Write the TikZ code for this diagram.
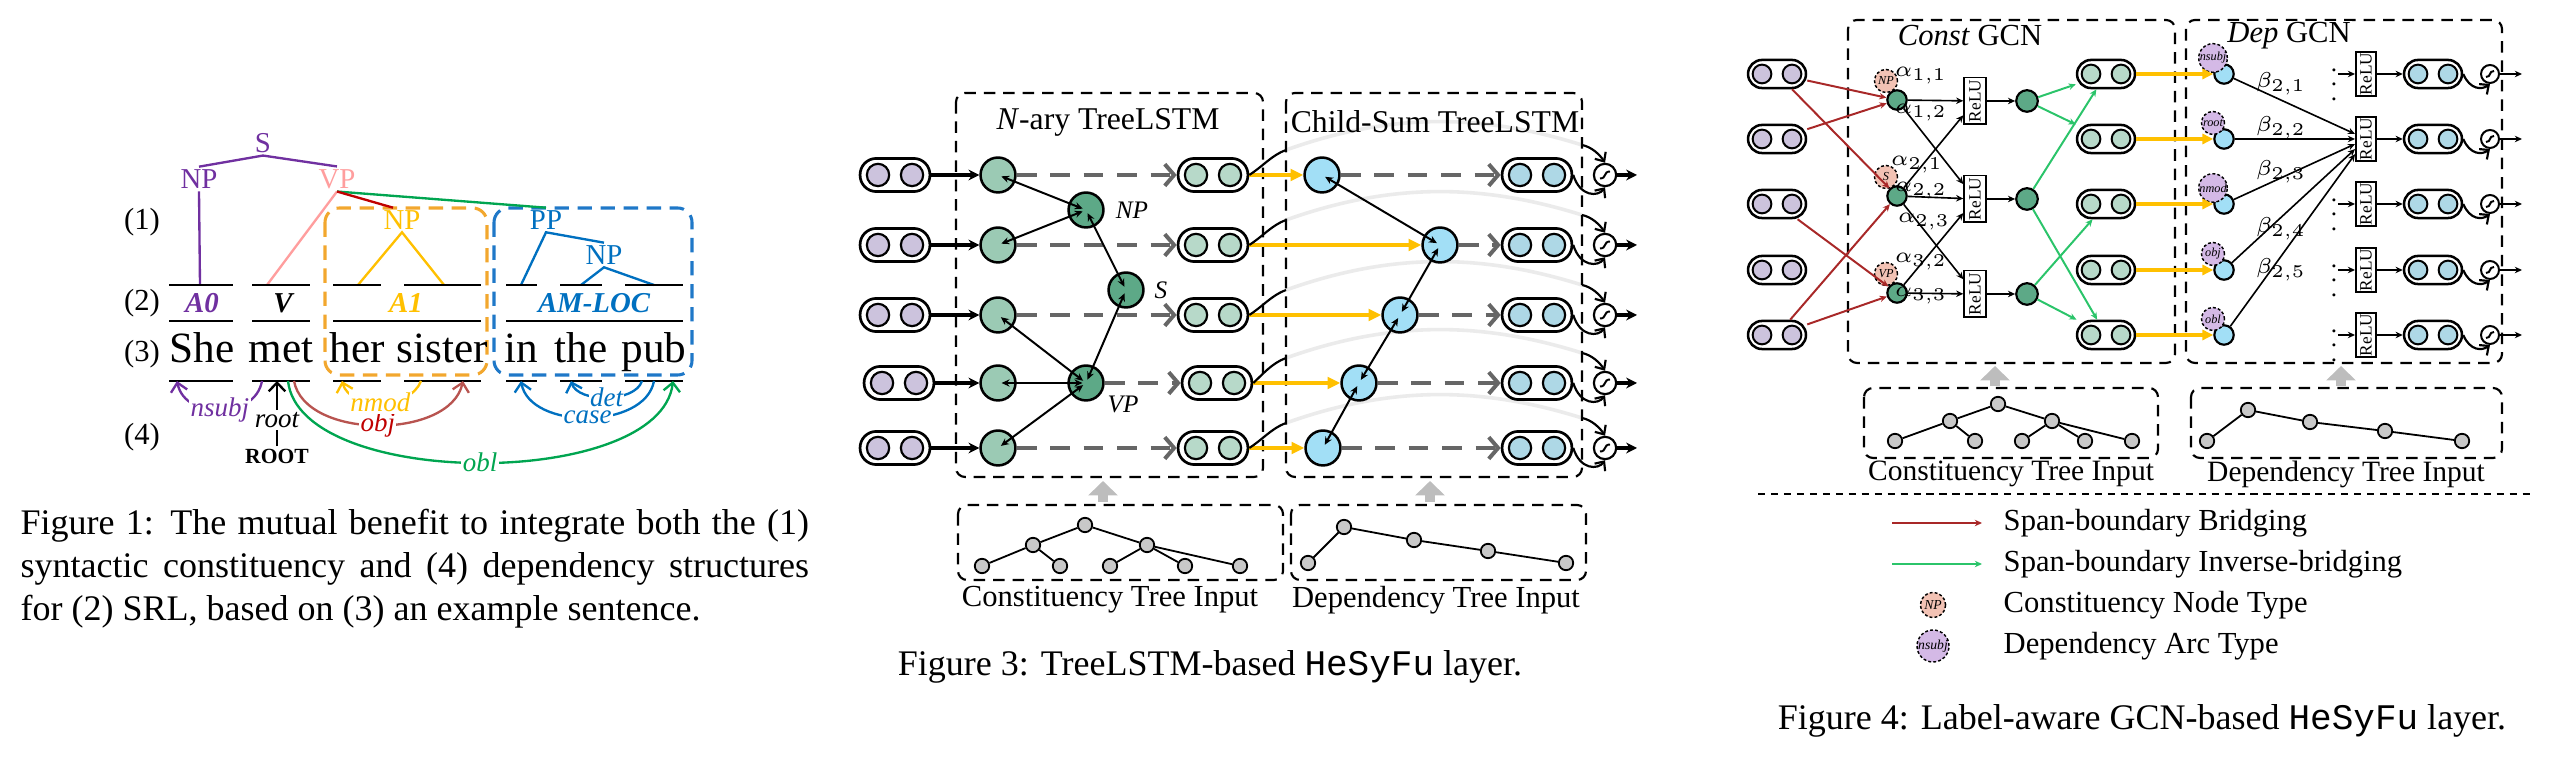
\documentclass[tikz,border=0pt]{standalone}
\usepackage{fontspec}
\setmainfont{Liberation Serif}
\setmonofont{Liberation Mono}
\usetikzlibrary{arrows.meta,calc}
\definecolor{cpurple}{HTML}{7030A0}
\definecolor{cpink}{HTML}{FF9E9E}
\definecolor{cdred}{HTML}{C00000}
\definecolor{cgreen}{HTML}{00A550}
\definecolor{cyellow}{HTML}{FFC000}
\definecolor{corange}{HTML}{F2A72E}
\definecolor{cblue}{HTML}{0070C0}
\definecolor{cbluebox}{HTML}{1F78C8}
\definecolor{cobj}{HTML}{B85450}
\definecolor{leafg}{HTML}{9BCAB4}
\definecolor{darkg}{HTML}{5DA987}
\definecolor{pillg}{HTML}{B7D9C9}
\definecolor{lav}{HTML}{CCC3DD}
\definecolor{skyb}{HTML}{A2DFF6}
\definecolor{pillb}{HTML}{AED8E6}
\definecolor{dgray}{HTML}{666666}
\definecolor{lgray}{HTML}{EBEBEB}
\definecolor{upgray}{HTML}{BDBDBD}
\definecolor{tgray}{HTML}{C8C8C8}
\definecolor{pinkl}{HTML}{F2C2B4}
\definecolor{purl}{HTML}{D4B9E6}
\definecolor{brred}{HTML}{A82828}
\definecolor{lgreen}{HTML}{2BC46A}
\begin{document}
\begin{tikzpicture}[x=0.27778pt,y=-0.27778pt]
\useasboundingbox (0,0) rectangle (2550,768);
\tikzset{
 trl/.style={line width=0.65pt},
 barl/.style={line width=0.65pt,black},
 tlab/.style={font=\fontsize{8}{9}\selectfont,inner sep=0.6pt},
 srl/.style={font=\fontsize{8}{9}\selectfont\bfseries\itshape,inner sep=0.5pt},
 wordt/.style={font=\fontsize{12}{13}\selectfont,anchor=base,inner sep=0pt},
 rowl/.style={font=\fontsize{8.5}{9}\selectfont,inner sep=0.5pt},
 deplab/.style={font=\fontsize{7.5}{8}\selectfont\itshape,fill=white,inner sep=0.4pt},
 arcs/.style={line width=0.65pt,-{Straight Barb[length=2.4pt,width=4.6pt]}},
 dbox/.style={dash pattern=on 4pt off 2.4pt,line width=0.85pt,rounded corners=4pt},
 capt/.style={font=\fontsize{10}{12}\selectfont,inner sep=0pt},
 gbox/.style={draw,dash pattern=on 3.2pt off 2.2pt,line width=0.6pt,rounded corners=2.5pt},
 ttl/.style={font=\fontsize{8.8}{10}\selectfont,inner sep=0.5pt},
 pillbox/.style={draw,line width=0.75pt,rectangle,rounded corners=4.5pt,minimum width=19.4pt,minimum height=9.2pt,inner sep=0pt},
 pdot/.style={draw,circle,line width=0.6pt,minimum size=6.2pt,inner sep=0pt},
 leafc/.style={draw,circle,line width=0.7pt,minimum size=9.7pt,inner sep=0pt,fill=leafg},
 inarr/.style={line width=0.9pt,-{Stealth[length=3pt,width=3pt]}},
 tarr/.style={line width=0.55pt,{Stealth[length=2.2pt,width=2pt]}-{Stealth[length=2.2pt,width=2pt]},shorten <=1pt,shorten >=1pt},
 garr/.style={dgray,line width=1.1pt,dash pattern=on 5.5pt off 3.8pt,-{Straight Barb[length=2.6pt,width=6pt]}},
 yarr/.style={cyellow,line width=1.2pt,-{Triangle[length=3.5pt,width=3.2pt]}},
 sigc/.style={draw,circle,line width=0.6pt,minimum size=6.2pt,inner sep=0pt,fill=white},
 thinl/.style={line width=0.6pt},
 barb/.style={-{Straight Barb[length=2pt,width=3.6pt]}},
 sigl/.style={line width=0.55pt},
 nlab/.style={font=\fontsize{7}{8}\selectfont\itshape,inner sep=0.5pt},
 tnode/.style={draw,circle,fill=tgray,line width=0.5pt,minimum size=4pt,inner sep=0pt},
 tedge/.style={line width=0.5pt},
 uparr/.style={upgray,line width=3pt,-{Triangle[length=4pt,width=8pt]}},
 tinl/.style={font=\fontsize{8.5}{10}\selectfont,inner sep=0.5pt},
 ttl4/.style={font=\fontsize{8.5}{10}\selectfont,inner sep=0.5pt,fill=white},
 pillf/.style={draw,line width=0.7pt,rectangle,rounded corners=3.9pt,minimum width=16.1pt,minimum height=7.8pt,inner sep=0pt},
 pdotf/.style={draw,circle,line width=0.55pt,minimum size=5.2pt,inner sep=0pt},
 fnode/.style={draw,circle,line width=0.6pt,minimum size=5.4pt,inner sep=0pt},
 flab/.style={draw,circle,dashed,dash pattern=on 0.8pt off 0.6pt,line width=0.4pt,minimum size=6.4pt,inner sep=0pt,font=\fontsize{3.4}{4}\selectfont\itshape},
 reluC/.style={draw,line width=0.5pt,rotate=90,minimum width=13pt,minimum height=6pt,inner sep=0.3pt,font=\fontsize{4.8}{5}\selectfont},
 reluD/.style={draw,line width=0.5pt,rotate=90,minimum width=11pt,minimum height=5.6pt,inner sep=0.3pt,font=\fontsize{4.8}{5}\selectfont},
 arr4/.style={line width=0.45pt,-{Stealth[length=2pt,width=1.8pt]}},
 rarr/.style={brred,line width=0.55pt,-{Stealth[length=2pt,width=1.8pt]}},
 grarr/.style={lgreen,line width=0.55pt,-{Stealth[length=2pt,width=1.8pt]}},
 yarr4/.style={cyellow,line width=1pt,-{Triangle[length=3pt,width=2.8pt]}},
 sigf/.style={draw,circle,line width=0.55pt,minimum size=5pt,inner sep=0pt,fill=white},
 alab/.style={font=\fontsize{6}{7}\selectfont,inner sep=0.3pt},
 legt/.style={font=\fontsize{8.5}{10}\selectfont,anchor=west,inner sep=0pt},
}
%%%%%%%%%%%%%%%%%%%%%%%% FIGURE 1
\draw[dbox,corange] (325,208) rectangle (487,375);
\draw[dbox,cbluebox] (494,208) rectangle (692,375);
\node[tlab,text=cpurple] (S1) at (263,143) {S};
\node[tlab,text=cpurple] (NPa) at (199,179) {NP};
\node[tlab,text=cpink] (VPa) at (337,179) {VP};
\node[tlab,text=cyellow] (NPb) at (402,220) {NP};
\node[tlab,text=cblue] (PPc) at (546,220) {PP};
\node[tlab,text=cblue] (NPc) at (604,255) {NP};
\coordinate (a0t) at (200,285);
\coordinate (vt) at (267,285);
\coordinate (b1) at (358,285);
\coordinate (b2) at (444,285);
\coordinate (c1) at (521,285);
\coordinate (c2) at (581,285);
\coordinate (c3) at (654,285);
\draw[trl,cpurple] (NPa.north) -- (S1.south) -- (VPa.north);
\draw[trl,cpurple] (NPa.south) -- (a0t);
\draw[trl,cpink] (VPa.south) -- (vt);
\draw[trl,cgreen] (VPa.south) -- (PPc.north);
\draw[trl,cdred] (VPa.south) -- ($(NPb.north)+(-9,0)$);
\draw[trl,cyellow] (b1) -- (NPb.south) -- (b2);
\draw[trl,cblue] (c1) -- (PPc.south) -- (NPc.north);
\draw[trl,cblue] (c2) -- (NPc.south) -- (c3);
\foreach \a/\b in {169/233,252/310,333/381,404/481,506/537,560/602,625/683}{
  \draw[barl] (\a,285) -- (\b,285);
  \draw[barl] (\a,381) -- (\b,381);
}
\foreach \a/\b in {169/233,252/310,333/481,506/683}
  \draw[barl] (\a,321) -- (\b,321);
\node[srl,text=cpurple] (lA0) at (202,303) {A0};
\node[srl] (lV) at (283,303) {V};
\node[srl,text=cyellow] (lA1) at (406,303) {A1};
\node[srl,text=cblue] (lAM) at (594,303) {AM-LOC};
\node[wordt] (wShe) at (202,363) {She};
\node[wordt] (wmet) at (281,363) {met};
\node[wordt] (wher) at (357,363) {her};
\node[wordt] (wsis) at (442,363) {sister};
\node[wordt] (win) at (521,363) {in};
\node[wordt] (wthe) at (581,363) {the};
\node[wordt] (wpub) at (654,363) {pub};
\node[rowl] (r1) at (142,222) {(1)};
\node[rowl] (r2) at (142,303) {(2)};
\node[rowl,anchor=base] (r3) at (142,362) {(3)};
\node[rowl] (r4) at (142,437) {(4)};
\coordinate (dShe) at (177,381);
\coordinate (dmetA) at (262,381);
\coordinate (dmetR) at (277,381);
\coordinate (dmetB) at (288,381);
\coordinate (dmetC) at (294,381);
\coordinate (dher) at (342,381);
\coordinate (dsisA) at (421,381);
\coordinate (dsisB) at (463,381);
\coordinate (din) at (521,381);
\coordinate (dthe) at (571,381);
\coordinate (dpubA) at (642,381);
\coordinate (dpubB) at (654,381);
\coordinate (dpubC) at (673,381);
\draw[arcs,cgreen] (dmetB) .. controls (300,490) and (660,490) .. (dpubC) node[deplab,text=cgreen,pos=0.5] {obl};
\draw[arcs,cobj] (dmetC) .. controls (305,440) and (450,440) .. (dsisB) node[deplab,text=cdred,pos=0.5] {obj};
\draw[arcs,cyellow] (dsisA) .. controls (410,410) and (350,410) .. (dher) node[deplab,text=cyellow,pos=0.5] {nmod};
\draw[arcs,cpurple] (dmetA) .. controls (255,420) and (185,420) .. (dShe) node[deplab,text=cpurple,pos=0.5] {nsubj};
\draw[arcs,cblue] (dpubB) .. controls (645,430) and (530,430) .. (din) node[deplab,text=cblue,pos=0.5] {case};
\draw[arcs,cblue] (dpubA) .. controls (635,403) and (578,403) .. (dthe) node[deplab,text=cblue,pos=0.5] {det};
\node[deplab] (rootl) at (277,420) {root};
\node[font=\fontsize{6}{7}\selectfont\bfseries,inner sep=0.5pt] (ROOT) at (277,456) {ROOT};
\draw[arcs] (rootl) -- (dmetR);
\draw[line width=0.6pt] (ROOT) -- (rootl);
\node[capt,anchor=north west,text width=219pt,align=justify] (cap1) at (20,508)
 {Figure 1: The mutual benefit to integrate both the (1) syntactic constituency and (4) dependency structures for (2) SRL, based on (3) an example sentence.};
%%%%%%%%%%%%%%%%%%%%%%%% FIGURE 3
\foreach \i/\y in {1/175,2/245,3/315,4/383,5/448}{
  \coordinate (K\i) at (1286,\y-25);
  \coordinate (M\i) at (1582,\y-30);
  \draw[lgray,line width=1pt] (K\i) .. controls (1390,\y-62) and (1480,\y-62) .. (M\i);
}
\draw[gbox] (956,93) rectangle (1263,477);
\draw[gbox] (1286,93) rectangle (1582,477);
\node[ttl] (T1) at (1108,122) {\textit{N}-ary TreeLSTM};
\node[ttl] (T2) at (1435,122) {Child-Sum TreeLSTM};
\foreach \i/\y/\bx/\sh in {1/175/1322/0,2/245/1440/0,3/315/1400/0,4/383/1359/4,5/448/1323/0}{
  \node[pillbox] (IP\i) at (895+\sh,\y) {};
  \node[pdot,fill=lav] at (878+\sh,\y) {};
  \node[pdot,fill=lav] at (912+\sh,\y) {};
  \node[leafc] (L\i) at (998,\y) {};
  \node[pillbox] (OP\i) at (1213+\sh,\y) {};
  \node[pdot,fill=pillg] at (1196+\sh,\y) {};
  \node[pdot,fill=pillg] at (1230+\sh,\y) {};
  \node[leafc,fill=skyb] (B\i) at (\bx,\y) {};
  \node[pillbox] (OQ\i) at (1537,\y) {};
  \node[pdot,fill=pillb] at (1520,\y) {};
  \node[pdot,fill=pillb] at (1554,\y) {};
  \node[sigc] (G\i) at (1605,\y) {};
  \coordinate (E\i) at (1637,\y);
  \draw[inarr] (IP\i) -- (L\i);
  \draw[yarr] (OP\i) -- (B\i);
  \draw[garr] (B\i) -- (OQ\i);
  \draw[thinl] (OP\i.east) .. controls (1262,\y-8) and (1272,\y-20) .. (K\i);
  \draw[thinl,barb] (M\i) .. controls (1592,\y-28) and (1600,\y-20) .. (G\i.north);
  \draw[thinl,barb] (OQ\i.east) .. controls (1580,\y+22) and (1598,\y+22) .. (G\i.south);
  \draw[sigl] ($(G\i)+(-5,3.5)$) .. controls ($(G\i)+(2,3.5)$) and ($(G\i)+(-2,-3.5)$) .. ($(G\i)+(5,-3.5)$);
  \draw[inarr] (G\i) -- (E\i);
}
\node[leafc,fill=darkg] (NPn) at (1086,210) {};
\node[leafc,fill=darkg] (Sn) at (1126,290) {};
\node[leafc,fill=darkg] (VPn) at (1086,383) {};
\node[nlab] (NPt) at (1132,210) {NP};
\node[nlab] (St) at (1161,290) {S};
\node[nlab] (VPt) at (1123,404) {VP};
\draw[garr] (L1) -- (OP1);
\draw[garr] (L2) -- (OP2);
\draw[garr] (L3) -- (OP3);
\draw[garr] (VPn) -- (OP4);
\draw[garr] (L5) -- (OP5);
\draw[tarr] (L1.center) -- (NPn.center);
\draw[tarr] (L2.center) -- (NPn.center);
\draw[tarr] (NPn.center) -- (Sn.center);
\draw[tarr] (Sn.center) -- (VPn.center);
\draw[tarr] (L3.center) -- (VPn.center);
\draw[tarr] (L4.center) -- (VPn.center);
\draw[tarr] (L5.center) -- (VPn.center);
\draw[tarr] (B1.center) -- (B2.center);
\draw[tarr] (B2.center) -- (B3.center);
\draw[tarr] (B3.center) -- (B4.center);
\draw[tarr] (B4.center) -- (B5.center);
% bottom trees
\coordinate (ua1) at (1103,502);
\coordinate (ua2) at (1103,481);
\coordinate (ub1) at (1430,502);
\coordinate (ub2) at (1430,481);
\draw[uparr] (ua1) -- (ua2);
\draw[uparr] (ub1) -- (ub2);
\draw[gbox] (958,505) rectangle (1283,580);
\draw[gbox] (1291,505) rectangle (1586,580);
\node[tnode] (t4) at (1085,525) {};
\node[tnode] (t2) at (1033,545) {};
\node[tnode] (t6) at (1147,545) {};
\node[tnode] (t1) at (982,566) {};
\node[tnode] (t3) at (1060,566) {};
\node[tnode] (t5) at (1110,566) {};
\node[tnode] (t7) at (1185,566) {};
\node[tnode] (t8) at (1240,566) {};
\draw[tedge] (t1) -- (t2) -- (t4) -- (t6) -- (t8);
\draw[tedge] (t2) -- (t3);
\draw[tedge] (t6) -- (t5);
\draw[tedge] (t6) -- (t7);
\node[tnode] (d1) at (1308,563) {};
\node[tnode] (d2) at (1344,527) {};
\node[tnode] (d3) at (1414,540) {};
\node[tnode] (d4) at (1488,551) {};
\node[tnode] (d5) at (1566,563) {};
\draw[tedge] (d1) -- (d2) -- (d3) -- (d4) -- (d5);
\node[tinl] (ctl) at (1110,600) {Constituency Tree Input};
\node[tinl] (dtl) at (1436,600) {Dependency Tree Input};
\node[capt] (cap3) at (1210,667) {Figure 3: TreeLSTM-based \texttt{HeSyFu} layer.};
%%%%%%%%%%%%%%%%%%%%%%%% FIGURE 4
\draw[gbox] (1848,20) rectangle (2175,363);
\draw[gbox] (2186,20) rectangle (2502,363);
\node[ttl4] (T3) at (1970,36) {\textit{Const} GCN};
\node[ttl4] (T4) at (2289,36) {\textit{Dep} GCN};
\foreach \i/\y/\t in {1/74/nsubj,2/139/root,3/204/nmod,4/270/obj,5/335/obl}{
  \node[pillf] (FI\i) at (1777,\y) {};
  \node[pdotf,fill=lav] at (1762,\y) {};
  \node[pdotf,fill=lav] at (1792,\y) {};
  \node[pillf] (FO\i) at (2106,\y) {};
  \node[pdotf,fill=pillg] at (2091,\y) {};
  \node[pdotf,fill=pillg] at (2121,\y) {};
  \node[fnode,fill=skyb] (FB\i) at (2224,\y) {};
  \node[flab,fill=purl] (FL\i) at (2213,\y-16) {\t};
  \node[reluD] (FR\i) at (2366,\y) {ReLU};
  \node[pillf] (FQ\i) at (2433,\y) {};
  \node[pdotf,fill=pillb] at (2418,\y) {};
  \node[pdotf,fill=pillb] at (2448,\y) {};
  \node[sigf] (FS\i) at (2490,\y) {};
  \coordinate (FE\i) at (2522,\y);
  \draw[yarr4] (FO\i) -- (FB\i);
  \draw[arr4] (FR\i) -- (FQ\i);
  \draw[thinl,barb] (FQ\i.east) .. controls (2470,\y+16) and (2482,\y+16) .. (FS\i.south);
  \draw[sigl] ($(FS\i)+(-4,3)$) .. controls ($(FS\i)+(1.6,3)$) and ($(FS\i)+(-1.6,-3)$) .. ($(FS\i)+(4,-3)$);
  \draw[arr4] (FS\i) -- (FE\i);
}
\foreach \i/\y in {1/74,3/204,4/270,5/335}{
  \node[inner sep=0pt,font=\fontsize{7}{7}\selectfont] (FD\i) at (2334,\y) {$\vdots$};
  \draw[arr4] (FD\i) -- (FR\i);
}
\foreach \i in {1,...,5} \draw[arr4] (FB\i) -- (FR2);
\node[alab] (b21) at (2281,84) {$\beta_{2,1}$};
\node[alab] (b22) at (2281,128) {$\beta_{2,2}$};
\node[alab] (b23) at (2281,172) {$\beta_{2,3}$};
\node[alab] (b24) at (2281,229) {$\beta_{2,4}$};
\node[alab] (b25) at (2281,270) {$\beta_{2,5}$};
% const side
\node[fnode,fill=darkg] (CN1) at (1897,100) {};
\node[flab,fill=pinkl] (CL1) at (1886,81) {NP};
\node[fnode,fill=darkg] (CN2) at (1897,196) {};
\node[flab,fill=pinkl] (CL2) at (1886,177) {S};
\node[fnode,fill=darkg] (CN3) at (1897,293) {};
\node[flab,fill=pinkl] (CL3) at (1886,274) {VP};
\draw[rarr] (FI1) -- (CN1);
\draw[rarr] (FI2) -- (CN1);
\draw[rarr] (FI1) -- (CN2);
\draw[rarr] (FI5) -- (CN2);
\draw[rarr] (FI3) -- (CN3);
\draw[rarr] (FI5) -- (CN3);
\node[reluC] (CR1) at (1975,101) {ReLU};
\node[reluC] (CR2) at (1975,199) {ReLU};
\node[reluC] (CR3) at (1975,294) {ReLU};
\draw[arr4] (CN1) -- (CR1);
\draw[arr4] (CN2) -- (CR1);
\draw[arr4] (CN1) -- (CR2);
\draw[arr4] (CN2) -- (CR2);
\draw[arr4] (CN3) -- (CR2);
\draw[arr4] (CN2) -- (CR3);
\draw[arr4] (CN3) -- (CR3);
\node[alab] (a11) at (1921,76) {$\alpha_{1,1}$};
\node[alab] (a12) at (1921,113) {$\alpha_{1,2}$};
\node[alab] (a21) at (1917,165) {$\alpha_{2,1}$};
\node[alab] (a22) at (1921,191) {$\alpha_{2,2}$};
\node[alab] (a23) at (1924,222) {$\alpha_{2,3}$};
\node[alab] (a32) at (1921,262) {$\alpha_{3,2}$};
\node[alab] (a33) at (1921,296) {$\alpha_{3,3}$};
\node[fnode,fill=darkg,minimum size=6pt] (CD1) at (2027,101) {};
\node[fnode,fill=darkg,minimum size=6pt] (CD2) at (2027,199) {};
\node[fnode,fill=darkg,minimum size=6pt] (CD3) at (2027,294) {};
\draw[arr4] (CR1) -- (CD1);
\draw[arr4] (CR2) -- (CD2);
\draw[arr4] (CR3) -- (CD3);
\draw[grarr] (CD1) -- (FO1);
\draw[grarr] (CD1) -- (FO2);
\draw[grarr] (CD2) -- (FO1);
\draw[grarr] (CD2) -- (FO5);
\draw[grarr] (CD3) -- (FO3);
\draw[grarr] (CD3) -- (FO5);
% bottom trees fig 4
\coordinate (uc1) at (1995,386);
\coordinate (uc2) at (1995,366);
\coordinate (ud1) at (2341,386);
\coordinate (ud2) at (2341,366);
\draw[uparr] (uc1) -- (uc2);
\draw[uparr] (ud1) -- (ud2);
\draw[gbox] (1864,388) rectangle (2158,458);
\draw[gbox] (2191,388) rectangle (2502,458);
\node[tnode] (e4) at (1998,404) {};
\node[tnode] (e2) at (1950,421) {};
\node[tnode] (e6) at (2052,421) {};
\node[tnode] (e1) at (1895,441) {};
\node[tnode] (e3) at (1975,441) {};
\node[tnode] (e5) at (2022,441) {};
\node[tnode] (e7) at (2085,441) {};
\node[tnode] (e8) at (2132,441) {};
\draw[tedge] (e1) -- (e2) -- (e4) -- (e6) -- (e8);
\draw[tedge] (e2) -- (e3);
\draw[tedge] (e6) -- (e5);
\draw[tedge] (e6) -- (e7);
\node[tnode] (f1) at (2207,441) {};
\node[tnode] (f2) at (2248,410) {};
\node[tnode] (f3) at (2310,422) {};
\node[tnode] (f4) at (2385,431) {};
\node[tnode] (f5) at (2462,441) {};
\draw[tedge] (f1) -- (f2) -- (f3) -- (f4) -- (f5);
\node[tinl,font=\fontsize{8.2}{10}\selectfont] (ctl4) at (2011,474) {Constituency Tree Input};
\node[tinl,font=\fontsize{8.2}{10}\selectfont] (dtl4) at (2346,474) {Dependency Tree Input};
% legend
\coordinate (lg1) at (1758,494);
\coordinate (lg2) at (2531,494);
\draw[line width=0.5pt,dash pattern=on 2pt off 1.6pt] (lg1) -- (lg2);
\coordinate (la1) at (1892,523);
\coordinate (la2) at (1982,523);
\coordinate (lb1) at (1892,564);
\coordinate (lb2) at (1982,564);
\draw[rarr] (la1) -- (la2);
\draw[grarr] (lb1) -- (lb2);
\node[legt] (lt1) at (2003,523) {Span-boundary Bridging};
\node[legt] (lt2) at (2003,564) {Span-boundary Inverse-bridging};
\node[flab,fill=pinkl,minimum size=7pt,font=\fontsize{3.8}{4}\selectfont\itshape] (lc3) at (1933,605) {NP};
\node[flab,fill=purl,minimum size=7pt,font=\fontsize{3.8}{4}\selectfont\itshape] (lc4) at (1933,646) {nsubj};
\node[legt] (lt3) at (2003,605) {Constituency Node Type};
\node[legt] (lt4) at (2003,646) {Dependency Arc Type};
\node[capt] (cap4) at (2142,721) {Figure 4: Label-aware GCN-based \texttt{HeSyFu} layer.};
\end{tikzpicture}
\end{document}
